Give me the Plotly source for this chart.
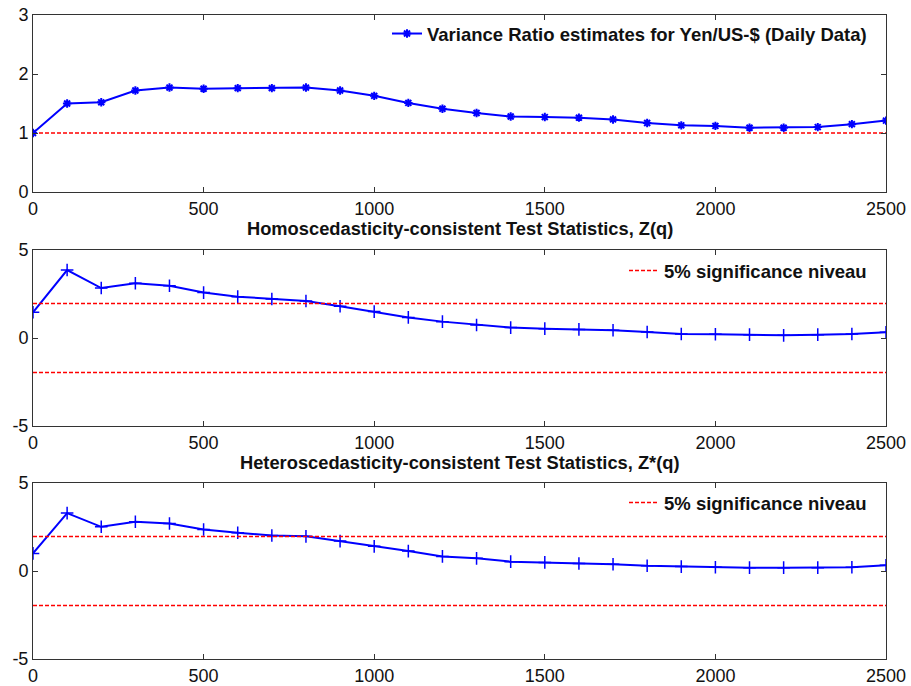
import plotly.graph_objects as go

# ---- data ----
q = [0, 100, 200, 300, 400, 500, 600, 700, 800, 900, 1000, 1100, 1200, 1300,
     1400, 1500, 1600, 1700, 1800, 1900, 2000, 2100, 2200, 2300, 2400, 2500]
vr = [1.00, 1.50, 1.52, 1.72, 1.77, 1.75, 1.76, 1.76, 1.77, 1.72, 1.63, 1.51, 1.41, 1.34,
      1.28, 1.27, 1.26, 1.23, 1.17, 1.13, 1.12, 1.09, 1.09, 1.10, 1.15, 1.21]
z_homo = [1.46, 3.86, 2.84, 3.11, 2.97, 2.58, 2.35, 2.22, 2.10, 1.80, 1.50, 1.17, 0.93, 0.74,
          0.59, 0.53, 0.49, 0.44, 0.34, 0.23, 0.21, 0.19, 0.15, 0.19, 0.23, 0.32]
z_hetero = [1.00, 3.29, 2.51, 2.80, 2.70, 2.36, 2.17, 2.02, 1.97, 1.70, 1.40, 1.13, 0.83, 0.72,
            0.53, 0.49, 0.43, 0.38, 0.30, 0.25, 0.21, 0.19, 0.19, 0.19, 0.21, 0.32]
vr_ref = 1.0
crit = 1.96
x_range = [0, 2500]
x_tickvals = [0, 500, 1000, 1500, 2000, 2500]
x_ticktext = ["0", "500", "1000", "1500", "2000", "2500"]
y1_tickvals = [0, 1, 2, 3]
y1_ticktext = ["0", "1", "2", "3"]
yz_tickvals = [-5, 0, 5]
yz_ticktext = ["-5", "0", "5"]

titles = ["Homoscedasticity-consistent Test Statistics, Z(q)",
          "Heteroscedasticity-consistent Test Statistics, Z*(q)"]
vr_label = "Variance Ratio estimates for Yen/US-$ (Daily Data)"
sig_label = "5% significance niveau"

W, H = 911, 686
FONT = "Arial, 'Liberation Sans', sans-serif"
BLUE = "rgb(0,0,255)"
RED = "rgb(255,0,0)"

def py(px):
    return 1 - px / H

xd = [33 / W, 886 / W]
doms = [(py(192), py(15)), (py(426), py(250)), (py(659), py(483))]

fig = go.Figure()

# panel 1
fig.add_trace(go.Scatter(x=x_range, y=[vr_ref, vr_ref], mode="lines",
                         line=dict(color=RED, width=1.5, dash="4px,2px"),
                         showlegend=False, xaxis="x", yaxis="y", hoverinfo="skip"))
fig.add_trace(go.Scatter(x=q, y=vr, mode="lines+markers", name=vr_label,
                         line=dict(color=BLUE, width=2),
                         marker=dict(symbol="asterisk-open", size=7, color=BLUE,
                                     line=dict(color=BLUE, width=2)),
                         legend="legend", xaxis="x", yaxis="y"))

# panels 2 & 3
for i, (zs, leg) in enumerate([(z_homo, "legend2"), (z_hetero, "legend3")]):
    xa = "x%d" % (i + 2)
    ya = "y%d" % (i + 2)
    fig.add_trace(go.Scatter(x=q, y=zs, mode="lines+markers", showlegend=False,
                             line=dict(color=BLUE, width=2),
                             marker=dict(symbol="cross-thin-open", size=9, color=BLUE,
                                         line=dict(color=BLUE, width=1.5)),
                             xaxis=xa, yaxis=ya))
    fig.add_trace(go.Scatter(x=x_range, y=[crit, crit], mode="lines", name=sig_label,
                             line=dict(color=RED, width=1.5, dash="4px,2px"),
                             legend=leg, xaxis=xa, yaxis=ya))
    fig.add_trace(go.Scatter(x=x_range, y=[-crit, -crit], mode="lines", showlegend=False,
                             line=dict(color=RED, width=1.5, dash="4px,2px"),
                             xaxis=xa, yaxis=ya))

axis_common = dict(showgrid=False, zeroline=False, showline=True, linecolor="#333",
                   linewidth=1, mirror="ticks", ticks="inside", ticklen=5,
                   tickcolor="#333", automargin=False,
                   tickfont=dict(family=FONT, size=18, color="#111"))

layout = dict(width=W, height=H, margin=dict(l=0, r=0, t=0, b=0, autoexpand=False),
              paper_bgcolor="white", plot_bgcolor="white",
              font=dict(family=FONT, color="#111"))

yranges = [[0, 3], [-5, 5], [-5, 5]]
ytv = [y1_tickvals, yz_tickvals, yz_tickvals]
ytt = [y1_ticktext, yz_ticktext, yz_ticktext]
for i in range(3):
    sx = "" if i == 0 else str(i + 1)
    layout["xaxis" + sx] = dict(domain=xd, range=x_range, anchor="y" + sx,
                                tickmode="array", tickvals=x_tickvals, ticktext=x_ticktext,
                                **axis_common)
    layout["yaxis" + sx] = dict(domain=list(doms[i]), range=yranges[i], anchor="x" + sx,
                                tickmode="array", tickvals=ytv[i], ticktext=ytt[i],
                                **axis_common)

legfont = dict(family=FONT, size=18.5, color="#111", weight="bold")
for name, top in [("legend", 15), ("legend2", 252), ("legend3", 484)]:
    layout[name] = dict(x=872 / W, y=py(top), xanchor="right", yanchor="top",
                        bgcolor="rgba(0,0,0,0)", font=legfont, borderwidth=0)

fig.update_layout(**layout)

title_y = [229, 462]
for t, yy in zip(titles, title_y):
    fig.add_annotation(text="<b>%s</b>" % t, x=(33 + 886) / 2 / W + 1 / W, y=py(yy),
                       xref="paper", yref="paper", showarrow=False,
                       xanchor="center", yanchor="middle",
                       font=dict(family=FONT, size=18.3, color="#111"))

fig.write_html("out.html")
